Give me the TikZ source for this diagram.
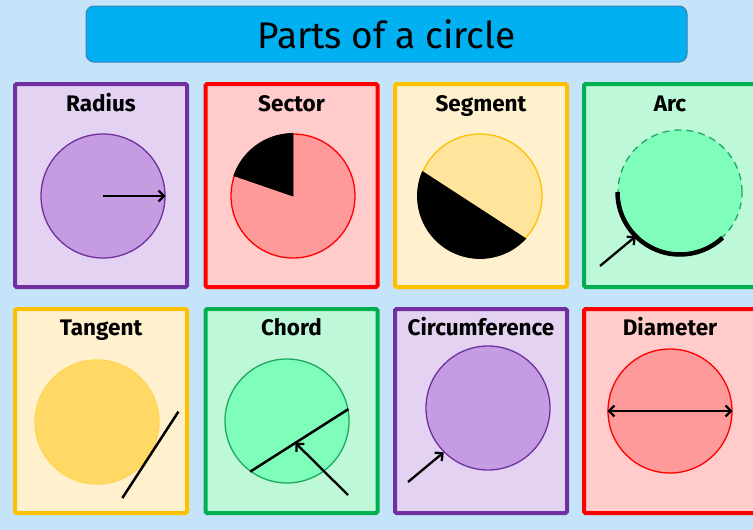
\documentclass[tikz,border=0pt]{standalone}
\usepackage{fontspec}
\setmainfont{Fira Sans}
\usetikzlibrary{arrows.meta,calc}
\definecolor{bg}{HTML}{C6E4F9}
\definecolor{ttlfill}{HTML}{00B0F0}
\definecolor{ttlline}{HTML}{3D7FAF}
\definecolor{purB}{HTML}{7030A0}
\definecolor{purF}{HTML}{E4D2F2}
\definecolor{purC}{HTML}{C59CE2}
\definecolor{redB}{HTML}{FF0000}
\definecolor{redF}{HTML}{FFCBCB}
\definecolor{redC}{HTML}{FF9A9A}
\definecolor{golB}{HTML}{FFC000}
\definecolor{golF}{HTML}{FFF1CD}
\definecolor{golC}{HTML}{FFE49C}
\definecolor{golT}{HTML}{FFD866}
\definecolor{grnB}{HTML}{00B050}
\definecolor{grnF}{HTML}{BDF9D9}
\definecolor{grnC}{HTML}{7FFDBA}
\definecolor{grnL}{HTML}{1FA95F}
\begin{document}
\begin{tikzpicture}[x=1pt,y=-1pt,
  panel/.style={draw,line width=4pt,rounded corners=1.5pt,minimum width=172pt,inner sep=0pt},
  toprow/.style={minimum height=203pt},
  botrow/.style={minimum height=204pt},
  ptitle/.style={anchor=base,inner sep=0pt,font=\fontsize{22.5}{26}\selectfont\bfseries},
  circ/.style={circle,draw,line width=1.3pt,minimum size=124pt,inner sep=0pt},
  arr/.style={line width=2.3pt,-{Straight Barb[length=5.5pt,width=11pt]}},
  thick line/.style={line width=2.5pt},
]
\useasboundingbox (0,0) rectangle (753,530);
\fill[bg] (0,0) rectangle (753,530);
% title
\node[draw=ttlline,fill=ttlfill,line width=1pt,rounded corners=8pt,minimum width=601pt,minimum height=56pt]
  (title) at (386.5,34) {};
\node[anchor=base,inner sep=0pt,font=\fontsize{37}{42}\selectfont] (titletext) at (386.5,48) {Parts of a circle};
% panels
\node[panel,toprow,draw=purB,fill=purF] (p1) at (101,185.5) {};
\node[panel,toprow,draw=redB,fill=redF] (p2) at (291.5,185.5) {};
\node[panel,toprow,draw=golB,fill=golF] (p3) at (481,185.5) {};
\node[panel,toprow,draw=grnB,fill=grnF] (p4) at (670,185.5) {};
\node[panel,botrow,draw=golB,fill=golF] (p5) at (101,411) {};
\node[panel,botrow,draw=grnB,fill=grnF] (p6) at (291.5,411) {};
\node[panel,botrow,draw=purB,fill=purF] (p7) at (481,411) {};
\node[panel,botrow,draw=redB,fill=redF] (p8) at (670,411) {};
% titles
\node[ptitle] (t1) at (101,111) {Radius};
\node[ptitle] (t2) at (291.5,111) {Sector};
\node[ptitle] (t3) at (481,111) {Segment};
\node[ptitle] (t4) at (670,111) {Arc};
\node[ptitle] (t5) at (101,335) {Tangent};
\node[ptitle] (t6) at (291.5,335) {Chord};
\node[ptitle] (t7) at (481,335) {Circumference};
\node[ptitle] (t8) at (670,335) {Diameter};
% Radius
\node[circ,draw=purB,fill=purC] (c1) at (103,196) {};
\draw[arr] (c1.center) -- (c1.east);
% Sector
\node[circ,draw=redB,fill=redC] (c2) at (293,196) {};
\filldraw[black,line width=0.8pt] (c2.center) -- ++(-90:62.5) arc[start angle=-90,end angle=-161,radius=62.5] -- cycle;
% Segment
\node[circ,draw=golB,fill=golC] (c3) at (480,196) {};
\filldraw[black,line width=0.8pt] (c3.center) ++(-157:62.5) arc[start angle=-157,end angle=-317,radius=62.5] -- cycle;
% Arc
\node[circ,draw=grnL,fill=grnC,dash pattern=on 7pt off 5pt] (c4) at (680,192) {};
\draw[line width=4.5pt] (c4.center) ++(-180:62.5) arc[start angle=-180,end angle=-313,radius=62.5];
\coordinate (a4) at (600,266);
\draw[arr] (a4) -- (c4.225);
% Tangent
\node[circ,draw=golT!85!golB,fill=golT] (c5) at (97,422) {};
\draw[thick line] ([shift={(-57:53)}]c5.-33) -- ([shift={(-57:-50)}]c5.-33);
% Chord
\node[circ,draw=grnL,fill=grnC] (c6) at (287,421) {};
\draw[thick line] (c6.234) -- (c6.11);
\coordinate (a6) at (348,495);
\draw[arr] (a6) -- ($(c6.234)!0.46!(c6.11)$);
% Circumference
\node[circ,draw=purB,fill=purC] (c7) at (488,408) {};
\coordinate (a7) at (408,482);
\draw[arr] (a7) -- (c7.225);
% Diameter
\node[circ,draw=redB,fill=redC] (c8) at (670,411) {};
\draw[line width=2.3pt,{Straight Barb[length=5.5pt,width=11pt]}-{Straight Barb[length=5.5pt,width=11pt]}] (c8.west) -- (c8.east);
\end{tikzpicture}
\end{document}
